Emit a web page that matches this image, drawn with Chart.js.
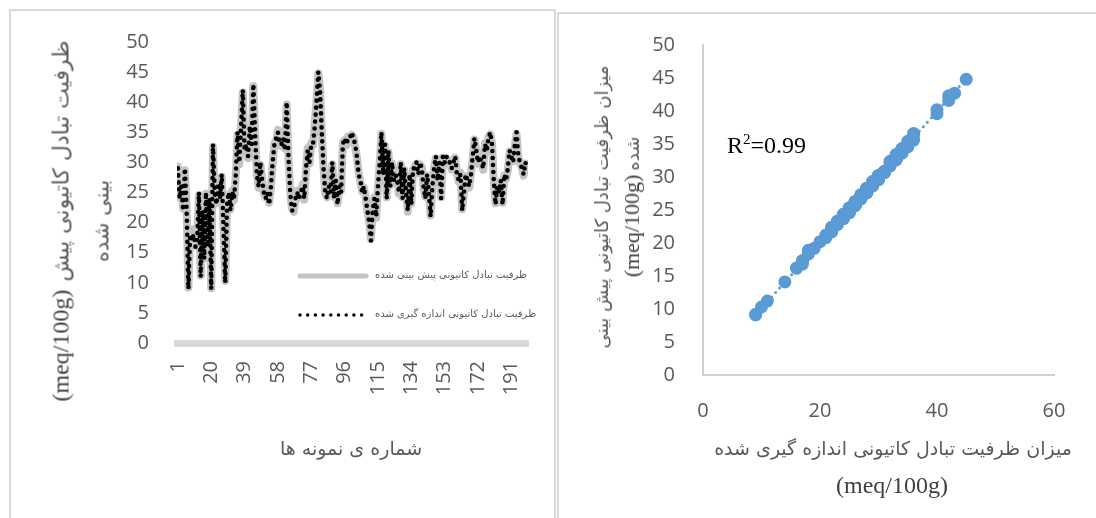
<!DOCTYPE html>
<html>
<head>
<meta charset="utf-8">
<script src="https://cdn.jsdelivr.net/npm/chart.js@4.4.1/dist/chart.umd.min.js"></script>
<style>
  body { margin: 0; width: 1096px; height: 518px; overflow: hidden; background: #fff; position: relative; color: #595959; }
  .frame { position: absolute; border: 2px solid #d9d9d9; box-sizing: border-box; }
  .box { position: absolute; }
  .txt { position: absolute; white-space: nowrap; direction: ltr; }
  .fa { font-family: "DejaVu Sans", sans-serif; }
  .en { font-family: "Liberation Serif", "Times New Roman", serif; }
  .rot { transform: translate(-50%, -50%) rotate(-90deg); text-align: center; }
  .mid { transform: translate(-50%, -50%); text-align: center; }
</style>
</head>
<body>
<div class="frame" style="left:9px;top:9px;width:547px;height:530px;"></div>
<div class="frame" style="left:557px;top:12px;width:560px;height:530px;"></div>

<div class="box" style="left:10px;top:10px;width:545px;height:508px;"><canvas id="lineChart"></canvas></div>
<div class="box" style="left:557px;top:13px;width:539px;height:505px;"><canvas id="scatterChart"></canvas></div>

<!-- left chart texts -->
<div class="txt rot" style="left:81px;top:221px;line-height:38px;">
  <div><span class="en" style="font-size:24px;color:#404040;">(meq/100g)</span>&nbsp;&nbsp;<span class="fa" style="font-size:22px;">ظرفیت تبادل کاتیونی پیش</span></div>
  <div class="fa" style="font-size:21px;">بینی شده</div>
</div>
<div class="txt mid fa" style="left:351px;top:448px;font-size:19px;">شماره ی نمونه ها</div>
<div class="txt fa" style="left:375px;top:269px;font-size:10px;">ظرفیت تبادل کاتیونی پیش بینی شده</div>
<div class="txt fa" style="left:375px;top:308px;font-size:10px;">ظرفیت تبادل کاتیونی اندازه گیری شده</div>

<!-- right chart texts -->
<div class="txt rot" style="left:618px;top:207px;line-height:30px;">
  <div class="fa" style="font-size:18px;">میزان ظرفیت تبادل کاتیونی پیش بینی</div>
  <div><span class="en" style="font-size:22px;color:#404040;">(meq/100g)</span> <span class="fa" style="font-size:18px;">شده</span></div>
</div>
<div class="txt mid fa" style="left:893px;top:448px;font-size:19px;">میزان ظرفیت تبادل کاتیونی اندازه گیری شده</div>
<div class="txt mid en" style="left:892px;top:485px;font-size:24px;color:#404040;">(meq/100g)</div>
<div class="txt en" style="left:727px;top:132px;font-size:24px;color:#000;">R<sup style="font-size:15px;vertical-align:9px;line-height:0;">2</sup>=0.99</div>

<script>
// measured CEC (black dotted) and predicted CEC (grey line), sample 1..200
const measured = [
  29, 24, 26, 22, 29, 22, 9, 18, 17, 18,
  16, 17, 25, 11, 22, 14, 25, 16, 24, 9,
  33, 25, 23, 26, 24, 28, 19, 10, 23, 25,
  22, 25, 24, 28, 35, 30, 36, 42, 32, 33,
  31, 36, 33, 43, 35, 28, 26, 30, 27, 25,
  24, 25, 23, 26, 30, 33, 34, 35, 33, 33,
  34, 32, 40, 31, 25, 22, 22, 24, 25, 24,
  25, 26, 24, 29, 32, 30, 33, 33, 36, 40,
  45, 42, 35, 29, 25, 24, 26, 25, 30, 24,
  27, 23, 26, 25, 33, 34, 33, 34, 34, 35,
  34, 33, 31, 28, 27, 25, 26, 24, 22, 20,
  17, 22, 24, 21, 26, 30, 35, 28, 33, 24,
  32, 26, 30, 27, 28, 27, 25, 30, 24, 29,
  25, 22, 28, 23, 29, 29, 30, 28, 30, 29,
  26, 24, 28, 25, 21, 26, 29, 31, 27, 30,
  24, 31, 30, 31, 30, 30, 29, 30, 31, 28,
  27, 28, 22, 25, 28, 27, 26, 28, 31, 34,
  32, 30, 31, 30, 29, 33, 32, 34, 35, 33,
  27, 23, 26, 25, 27, 23, 28, 27, 29, 32,
  31, 30, 33, 35, 31, 30, 29, 28, 30, 29
];
const predicted = [
  29.3, 24.2, 25.8, 22.3, 28.7, 22.4, 9.2, 18.3, 16.8, 18.9,
  16.2, 17.3, 24.6, 11.2, 21.7, 14.1, 24.8, 16.2, 23.8, 9.1,
  32.6, 24.7, 23.2, 25.7, 24.3, 27.6, 19.2, 10.3, 22.8, 24.6,
  22.2, 25.3, 23.7, 27.8, 34.6, 29.7, 36.4, 41.6, 32.2, 33.4,
  30.7, 35.6, 32.8, 42.7, 34.7, 28.2, 25.8, 29.6, 27.3, 24.8,
  24.2, 24.7, 23.3, 25.8, 29.7, 33.2, 33.6, 35.4, 33.1, 32.7,
  33.8, 32.3, 39.6, 30.8, 25.2, 22.3, 21.8, 23.7, 25.3, 24.2,
  24.8, 26.3, 23.8, 28.7, 32.4, 29.8, 33.2, 32.8, 36.6, 40.2,
  44.8, 42.3, 34.7, 29.2, 24.8, 24.2, 25.7, 25.2, 29.7, 24.3,
  26.8, 23.2, 25.8, 25.3, 33.2, 33.7, 32.8, 34.3, 33.8, 34.6,
  34.2, 32.7, 30.8, 28.3, 26.7, 25.2, 25.8, 24.3, 21.8, 20.2,
  17.3, 21.8, 24.2, 20.8, 25.7, 29.8, 34.7, 28.2, 32.8, 24.2,
  31.7, 26.2, 29.8, 27.3, 27.7, 27.2, 24.8, 29.7, 24.2, 28.8,
  25.2, 21.8, 27.7, 23.2, 28.8, 29.3, 29.8, 28.2, 29.7, 29.2,
  25.8, 24.3, 27.8, 25.2, 21.2, 25.8, 29.2, 30.7, 27.2, 29.8,
  24.2, 30.8, 30.2, 30.7, 29.8, 30.2, 28.8, 29.7, 30.8, 28.2,
  26.8, 28.3, 22.2, 24.8, 27.7, 27.2, 25.8, 28.2, 30.7, 33.8,
  32.2, 29.8, 30.8, 30.2, 28.8, 33.2, 31.8, 34.2, 34.7, 33.2,
  26.8, 23.2, 25.7, 25.2, 26.8, 23.3, 27.8, 27.2, 28.7, 31.8,
  30.8, 30.2, 32.7, 34.7, 30.8, 29.8, 29.2, 27.8, 29.8, 29.2
];
const sampleTicks = [1, 20, 39, 58, 77, 96, 115, 134, 153, 172, 191];
const trendX = [9, 45];
const trendY = [9.1, 44.9];

const TICK_COLOR = '#595959';
const GREY_LINE = '#c4c4c4';
const BLUE = '#5b9bd5';
const tickFont = { family: '"Open Sans", sans-serif', size: 20 };

// legend sits inside the plot, drawn with the dataset styles
const insideLegend = {
    id: 'insideLegend',
    afterDraw(chart) {
        const ctx = chart.ctx;
        ctx.save();
        ctx.lineCap = 'round';
        ctx.strokeStyle = GREY_LINE;
        ctx.lineWidth = 5;
        ctx.beginPath();
        ctx.moveTo(290, 266);
        ctx.lineTo(356, 266);
        ctx.stroke();
        ctx.strokeStyle = '#000';
        ctx.lineWidth = 3.5;
        ctx.setLineDash([0, 7.7]);
        ctx.beginPath();
        ctx.moveTo(290, 305);
        ctx.lineTo(352, 305);
        ctx.stroke();
        ctx.restore();
    }
};

new Chart(document.getElementById('lineChart'), {
    type: 'line',
    data: {
        datasets: [
            {
                label: 'predicted',
                data: predicted.map((v, i) => ({ x: i + 1, y: v })),
                borderColor: GREY_LINE,
                borderWidth: 8,
                borderCapStyle: 'round',
                borderJoinStyle: 'round',
                pointRadius: 0,
                tension: 0,
                order: 2,
            },
            {
                label: 'measured',
                data: measured.map((v, i) => ({ x: i + 1, y: v })),
                borderColor: '#000',
                borderWidth: 4.6,
                borderDash: [0, 7],
                borderCapStyle: 'round',
                pointRadius: 0,
                tension: 0,
                order: 1,
            }
        ]
    },
    options: {
        responsive: true,
        maintainAspectRatio: false,
        animation: false,
        layout: { padding: { top: 28, right: 27, left: 0, bottom: 0 } },
        plugins: { legend: { display: false }, tooltip: { enabled: false } },
        scales: {
            x: {
                type: 'linear',
                min: 0.5,
                max: 200.5,
                afterBuildTicks: s => { s.ticks = sampleTicks.map(v => ({ value: v })); },
                afterFit: s => { s.height = 175; },
                grid: { display: false },
                border: { display: true, color: '#d9d9d9', width: 7 },
                ticks: { autoSkip: false, minRotation: 90, maxRotation: 90, padding: 10, color: TICK_COLOR, font: tickFont }
            },
            y: {
                min: 0,
                max: 50,
                afterFit: s => { s.width = 167; },
                grid: { display: false },
                border: { display: false },
                ticks: { stepSize: 5, padding: 20, color: TICK_COLOR, font: tickFont }
            }
        }
    },
    plugins: [insideLegend]
});

new Chart(document.getElementById('scatterChart'), {
    type: 'scatter',
    data: {
        datasets: [
            {
                label: 'CEC',
                data: measured.map((v, i) => ({ x: v, y: predicted[i] })),
                backgroundColor: BLUE,
                borderWidth: 0,
                pointRadius: 6.5,
            },
            {
                type: 'line',
                label: 'trend',
                data: trendX.map((v, i) => ({ x: v, y: trendY[i] })),
                borderColor: BLUE,
                borderWidth: 3,
                borderDash: [0, 6],
                borderCapStyle: 'round',
                pointRadius: 0,
            }
        ]
    },
    options: {
        responsive: true,
        maintainAspectRatio: false,
        animation: false,
        layout: { padding: { top: 30, right: 42, left: 0, bottom: 0 } },
        plugins: { legend: { display: false }, tooltip: { enabled: false } },
        scales: {
            x: {
                type: 'linear',
                min: 0,
                max: 60,
                afterFit: s => { s.height = 143; },
                grid: { display: false },
                border: { display: true, color: '#d0d0d0', width: 2 },
                ticks: { stepSize: 20, padding: 16, color: TICK_COLOR, font: tickFont }
            },
            y: {
                min: 0,
                max: 50,
                afterFit: s => { s.width = 146; },
                grid: { display: false },
                border: { display: true, color: '#d0d0d0', width: 2 },
                ticks: { stepSize: 5, padding: 20, color: TICK_COLOR, font: tickFont }
            }
        }
    }
});
</script>
</body>
</html>
